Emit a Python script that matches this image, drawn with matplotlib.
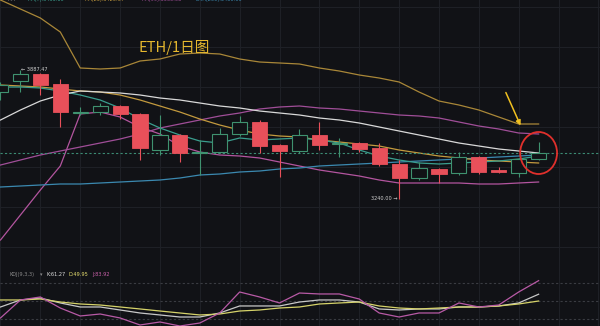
import numpy as np
import matplotlib
matplotlib.use("Agg")
import matplotlib.pyplot as plt
from matplotlib.patches import Ellipse

plt.rcParams['font.family'] = ['Noto Sans CJK SC', 'DejaVu Sans']

# daily ETH candles (open, high, low, close)
opens  = [3775, 3830, 3865, 3815, 3672, 3675, 3705, 3665, 3485, 3560, 3470, 3475, 3565, 3625,
          3510, 3480, 3560, 3515, 3520, 3495, 3415, 3345, 3390, 3370, 3450, 3385, 3370, 3440]
highs  = [3825, 3887.47, 3870, 3840, 3700, 3720, 3710, 3670, 3660, 3565, 3535, 3595, 3655, 3635,
          3515, 3590, 3625, 3545, 3525, 3520, 3435, 3425, 3395, 3475, 3455, 3400, 3445, 3525]
lows   = [3735, 3775, 3760, 3600, 3660, 3660, 3640, 3435, 3460, 3425, 3360, 3470, 3555, 3470,
          3350, 3470, 3485, 3450, 3475, 3405, 3240.00, 3335, 3320, 3360, 3365, 3370, 3350, 3435]
closes = [3810, 3865, 3810, 3675, 3677, 3705, 3665, 3495, 3560, 3470, 3475, 3565, 3625, 3505,
          3480, 3560, 3510, 3520, 3490, 3415, 3345, 3395, 3365, 3450, 3375, 3375, 3440, 3470]

# overlay lines
boll_up = [4235, 4190, 4145, 4075, 3895, 3890, 3895, 3930, 3940, 3965, 3970, 3965, 3940, 3925,
           3920, 3915, 3895, 3880, 3860, 3845, 3825, 3775, 3730, 3710, 3685, 3650, 3615, 3615]
boll_dn = [3035, 3160, 3285, 3405, 3665, 3675, 3650, 3600, 3565, 3505, 3475, 3460, 3455, 3445,
           3425, 3405, 3385, 3370, 3355, 3335, 3320, 3320, 3320, 3320, 3315, 3315, 3320, 3325]
ma_pink = [3410, 3435, 3460, 3480, 3500, 3520, 3540, 3565, 3595, 3615, 3635, 3655, 3670, 3690,
           3700, 3705, 3695, 3690, 3680, 3670, 3660, 3655, 3645, 3625, 3605, 3590, 3570, 3565]
ma_white = [3635, 3685, 3730, 3760, 3780, 3775, 3770, 3760, 3745, 3735, 3720, 3705, 3695, 3680,
            3670, 3660, 3645, 3635, 3620, 3600, 3580, 3560, 3540, 3520, 3505, 3490, 3480, 3470]
ma_teal = [3800, 3800, 3795, 3780, 3760, 3735, 3695, 3640, 3595, 3560, 3530, 3520, 3545, 3535,
           3540, 3545, 3535, 3520, 3485, 3455, 3435, 3420, 3415, 3420, 3425, 3430, 3440, 3455]
ma_orange = [3810, 3805, 3800, 3790, 3780, 3775, 3760, 3735, 3705, 3675, 3640, 3610, 3585, 3565,
             3555, 3550, 3535, 3525, 3515, 3505, 3485, 3470, 3455, 3445, 3435, 3430, 3425, 3420]
ma_blue = [3300, 3305, 3310, 3315, 3315, 3320, 3325, 3330, 3335, 3345, 3360, 3365, 3375, 3380,
           3390, 3395, 3405, 3410, 3415, 3420, 3425, 3430, 3435, 3440, 3445, 3450, 3455, 3460]

# KDJ(9,3,3)
kdj_k = [40, 51.7, 55, 46.7, 40, 40, 35, 30, 26.7, 23.3, 23.3, 30, 41.7, 41.7,
         41.7, 48.3, 51.7, 51.7, 48.3, 36.7, 35, 36.7, 36.7, 40, 40, 41.7, 46.7, 61.27]
kdj_d = [51.7, 51.7, 53.3, 48.3, 45, 43.3, 40, 36.7, 33.3, 30, 26.7, 28.3, 33.3, 35,
         38.3, 40, 45, 46.7, 48.3, 41.7, 38.3, 36.7, 38.3, 40, 40, 41.7, 45, 49.95]
kdj_j = [21.7, 51.7, 56.7, 38.3, 25, 28.3, 21.7, 10, 15, 8.3, 13.3, 30, 65, 56.7,
         46.7, 63.3, 61.7, 61.7, 53.3, 30, 23.3, 30, 30, 46.7, 40, 43.3, 65, 83.92]

bg = '#111216'
grid = '#1e2026'
up_c = '#3f9270'
dn_c = '#e8505a'
small = 3.6

fig = plt.figure(figsize=(6, 3.26), dpi=100, facecolor=bg)
ax = fig.add_axes([0, 58 / 326, 1, 268 / 326], facecolor=bg)
ax2 = fig.add_axes([0, 0, 1, 58 / 326], facecolor=bg)

x = np.arange(len(closes))
xlim = (-0.025, 30.08)

for a in (ax, ax2):
    a.set_xlim(*xlim)
    a.set_xticks(np.arange(0, 31, 2))
    a.tick_params(length=0, labelbottom=False, labelleft=False)
    for s in a.spines.values():
        s.set_visible(False)
    a.grid(True, axis='x', color=grid, lw=0.8)

ax.set_ylim(2895, 4235)
ax.set_yticks(np.arange(3000, 4201, 200))
ax.grid(True, axis='y', color=grid, lw=0.8)

# lines
ax.plot(x, boll_up, color='#a98738', lw=0.9)
ax.plot(x, boll_dn, color='#b3559f', lw=0.9)
ax.plot(x, ma_pink, color='#a04e98', lw=0.9)
ax.plot(x, ma_blue, color='#3b89b0', lw=0.9)
ax.plot(x, ma_orange, color='#c39a3e', lw=0.9)
ax.plot(x, ma_teal, color='#3a9e8e', lw=0.9)
ax.plot(x, ma_white, color='#d9d9d9', lw=0.9)

# current price line
ax.axhline(closes[-1], color='#3c8c74', lw=0.8, ls=(0, (2, 2)))

# candles
o = np.array(opens, float)
c = np.array(closes, float)
up = c >= o
ax.vlines(x[up], np.array(lows)[up], np.array(highs)[up], color=up_c, lw=0.8, zorder=3)
ax.vlines(x[~up], np.array(lows)[~up], np.array(highs)[~up], color=dn_c, lw=0.8, zorder=3)
body_lo = np.minimum(o, c)
body_h = np.maximum(np.abs(c - o), 4)
ax.bar(x[up], body_h[up], bottom=body_lo[up], width=0.76, facecolor=bg,
       edgecolor=up_c, lw=0.8, zorder=4)
ax.bar(x[~up], body_h[~up], bottom=body_lo[~up], width=0.76, facecolor=dn_c,
       edgecolor=dn_c, lw=0.6, zorder=4)

# high / low labels
i_hi = int(np.argmax(highs))
i_lo = int(np.argmin(lows))
ax.text(x[i_hi] + 0.05, highs[i_hi], '\u2190 %.2f' % highs[i_hi], color='#d0d0d0',
        fontsize=small, va='center', ha='left', family='DejaVu Sans')
ax.text(x[i_lo] - 0.05, lows[i_lo], '%.2f \u2192' % lows[i_lo], color='#d0d0d0',
        fontsize=small, va='center', ha='right', family='DejaVu Sans')

# title
ax.text(6.9, 3998, 'ETH/1日图', color='#e6b82e', fontsize=10.5, va='center', ha='left')

# highlight last candle
last = len(closes) - 1
ax.add_patch(Ellipse((x[last], closes[-1]), 1.85, 210, fill=False, ec='#e0302c', lw=1.3, zorder=6))
ax.annotate('', xy=(x[last] - 0.85, closes[-1] + 125), xytext=(x[last] - 1.7, closes[-1] + 315),
            arrowprops=dict(arrowstyle='-|>', color='#f0c020', lw=1.1, mutation_scale=7))

# top legend row (cut off at the edge, as in the screenshot)
heads = [('MA', '#8a8a8a', 0.012), ('MA(7):3455.10', '#3a9e8e', 0.045),
         ('MA(25):3420.67', '#c39a3e', 0.14), ('MA(99):3565.08', '#a04e98', 0.235),
         ('EMA(200):3460.00', '#3b89b0', 0.325)]
for t, col, px in heads:
    fig.text(px, 1.0 + 0.002, t, color=col, fontsize=small, va='center', ha='left',
             family='DejaVu Sans')

# KDJ panel
ax2.set_ylim(8.3, 105)
for lv in (20, 50, 80):
    ax2.axhline(lv, color='#3a3c42', lw=0.8, ls=(0, (2, 2)))
ax2.plot(x, kdj_k, color='#c8c8c8', lw=0.9)
ax2.plot(x, kdj_d, color='#d6d36a', lw=0.9)
ax2.plot(x, kdj_j, color='#b85aa6', lw=0.9)

hy = 0.88
ax2.text(0.015, hy, 'KDJ(9,3,3)', transform=ax2.transAxes, color='#8a8a8a',
         fontsize=small, va='center', family='DejaVu Sans')
ax2.text(0.066, hy, '\u25be', transform=ax2.transAxes, color='#8a8a8a',
         fontsize=small, va='center', family='DejaVu Sans')
ax2.text(0.078, hy, 'K:%.2f' % kdj_k[-1], transform=ax2.transAxes, color='#e0e0e0',
         fontsize=small, va='center', family='DejaVu Sans')
ax2.text(0.114, hy, 'D:%.2f' % kdj_d[-1], transform=ax2.transAxes, color='#e8e070',
         fontsize=small, va='center', family='DejaVu Sans')
ax2.text(0.153, hy, 'J:%.2f' % kdj_j[-1], transform=ax2.transAxes, color='#c860a8',
         fontsize=small, va='center', family='DejaVu Sans')

fig.savefig('out.png', dpi=100, facecolor=bg)
